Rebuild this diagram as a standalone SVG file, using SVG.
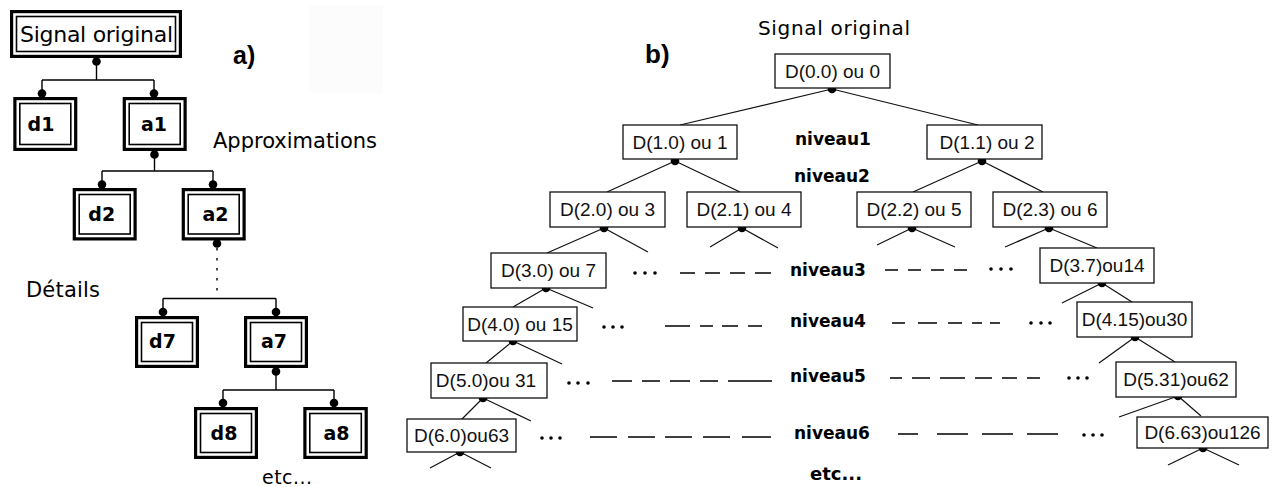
<svg xmlns="http://www.w3.org/2000/svg" width="1274" height="487" viewBox="0 0 1274 487">
  <style>
    .ob { fill: #fff; stroke: #000; stroke-width: 3.2; }
    .ib { fill: none; stroke: #000; stroke-width: 1.6; }
    .lt { font-family: "DejaVu Sans", "Liberation Sans", sans-serif; font-size: 19px; font-weight: bold; text-anchor: middle; fill: #000; }
    .cm { font-family: "DejaVu Sans", "Liberation Sans", sans-serif; fill: #000; }
    .rb { fill: #fff; stroke: #111; stroke-width: 1.3; }
    .rt { font-family: "Liberation Sans", Arial, sans-serif; font-size: 19px; text-anchor: middle; fill: #111; }
    .cn { stroke: #000; stroke-width: 1.4; fill: none; }
    .rl { stroke: #111; stroke-width: 1.2; fill: none; }
    .niv { font-family: "DejaVu Sans", "Liberation Sans", sans-serif; font-size: 17px; font-weight: bold; fill: #000; }
    .ds { stroke: #000; stroke-width: 1.3; fill: none; }
    .title { font-family: "Liberation Sans", Arial, sans-serif; font-weight: bold; fill: #000; }
  </style>
  <defs>
    <circle id="knob" r="4.3" fill="#000"/>
    <circle id="pt" r="1.8" fill="#000"/>
  </defs>

  <rect width="1274" height="487" fill="#fff"/>
  <!-- faint backdrop beside label a) -->
  <rect x="310" y="5" width="73" height="88" fill="#fcfcfc"/>

  <!-- ===== a) dyadic decomposition tree ===== -->
  <text class="title" x="233" y="64" font-size="25">a)</text>
  <text class="cm" x="213" y="148" font-size="21" textLength="164">Approximations</text>
  <text class="cm" x="26" y="297" font-size="21" textLength="74">Détails</text>
  <text class="cm" x="262" y="484" font-size="19" textLength="50">etc...</text>

  <g id="connectors-a">
    <path class="cn" d="M96.5 58 V80 M42 80 H154 M42 80 V97 M154 80 V97"/>
    <path class="cn" d="M154.5 151 V171 M102 171 H213 M102 171 V188 M213 171 V188"/>
    <path class="cn" d="M217 248 V298" stroke="#777" stroke-dasharray="2.5 7.5"/>
    <path class="cn" d="M163 298.5 H276 M163 298.5 V316 M276 298.5 V316"/>
    <path class="cn" d="M276 368 V390 M223 390 H334 M223 390 V407 M334 390 V407"/>
    <use href="#knob" x="96.5" y="61.5"/>
    <use href="#knob" x="42" y="93.5"/>
    <use href="#knob" x="154" y="93.5"/>
    <use href="#knob" x="154.5" y="154.5"/>
    <use href="#knob" x="102" y="184.5"/>
    <use href="#knob" x="213" y="184.5"/>
    <use href="#knob" x="217" y="243.5"/>
    <use href="#knob" x="163" y="312"/>
    <use href="#knob" x="276" y="312"/>
    <use href="#knob" x="276" y="371.5"/>
    <use href="#knob" x="223" y="403"/>
    <use href="#knob" x="334" y="403"/>
  </g>

  <g id="a-signal">
    <rect class="ob" x="11.6" y="11.6" width="168.8" height="44.8"/>
    <rect class="ib" x="16.5" y="16.5" width="159" height="35"/>
    <text class="cm" x="20" y="42" font-size="22" textLength="153">Signal original</text>
  </g>
  <g id="a-d1">
    <rect class="ob" x="14.9" y="98.6" width="60.8" height="50.8"/>
    <rect class="ib" x="19.8" y="103.5" width="51" height="41"/>
    <text class="lt" x="41" y="131">d1</text>
  </g>
  <g id="a-a1">
    <rect class="ob" x="124.3" y="98.6" width="60.8" height="50.8"/>
    <rect class="ib" x="129.2" y="103.5" width="51" height="41"/>
    <text class="lt" x="154" y="131">a1</text>
  </g>
  <g id="a-d2">
    <rect class="ob" x="74.3" y="189.6" width="60.8" height="49.3"/>
    <rect class="ib" x="79.2" y="194.5" width="51" height="39.5"/>
    <text class="lt" x="101.7" y="221">d2</text>
  </g>
  <g id="a-a2">
    <rect class="ob" x="183.3" y="189.6" width="60.8" height="49.3"/>
    <rect class="ib" x="188.2" y="194.5" width="51" height="39.5"/>
    <text class="lt" x="215.5" y="221">a2</text>
  </g>
  <g id="a-d7">
    <rect class="ob" x="136.6" y="317.6" width="60.8" height="48.8"/>
    <rect class="ib" x="141.5" y="322.5" width="51" height="39"/>
    <text class="lt" x="162.5" y="348">d7</text>
  </g>
  <g id="a-a7">
    <rect class="ob" x="245.6" y="317.6" width="60.8" height="48.8"/>
    <rect class="ib" x="250.5" y="322.5" width="51" height="39"/>
    <text class="lt" x="274" y="348">a7</text>
  </g>
  <g id="a-d8">
    <rect class="ob" x="195.6" y="408.6" width="60.8" height="48.8"/>
    <rect class="ib" x="200.5" y="413.5" width="51" height="39"/>
    <text class="lt" x="224" y="440">d8</text>
  </g>
  <g id="a-a8">
    <rect class="ob" x="304.9" y="408.6" width="61.3" height="48.8"/>
    <rect class="ib" x="309.8" y="413.5" width="51.5" height="39"/>
    <text class="lt" x="336.5" y="440">a8</text>
  </g>

  <!-- ===== b) wavelet packet tree ===== -->
  <text class="title" x="645" y="63" font-size="26">b)</text>
  <text class="cm" x="758" y="35" font-size="20" textLength="152">Signal original</text>
  <text class="niv" x="795" y="145">niveau1</text>
  <text class="niv" x="794" y="182">niveau2</text>
  <text class="niv" x="790" y="276">niveau3</text>
  <text class="niv" x="790" y="327">niveau4</text>
  <text class="niv" x="790" y="382">niveau5</text>
  <text class="niv" x="794" y="439">niveau6</text>
  <text class="cm" x="810" y="480" font-size="18" font-weight="bold" textLength="52">etc...</text>

  <g id="connectors-b">
    <path class="rl" d="M832 89 L680 125 M832 89 L978 125"/>
    <path class="rl" d="M675 161 L607 192 M675 161 L740 192"/>
    <path class="rl" d="M982 161 L913 192 M982 161 L1043 192"/>
    <path class="rl" d="M604 228 L547 253 M604 228 L648 252"/>
    <path class="rl" d="M742 228 L710 247 M742 228 L778 248"/>
    <path class="rl" d="M912 228 L877 245 M912 228 L955 247"/>
    <path class="rl" d="M1049 228 L1005 247 M1049 228 L1097 248"/>
    <path class="rl" d="M546 288 L513 307 M546 288 L593 308"/>
    <path class="rl" d="M1102 283 L1062 303 M1102 283 L1132 302"/>
    <path class="rl" d="M513 341 L486 363 M513 341 L562 364"/>
    <path class="rl" d="M1135 337 L1099 363 M1135 337 L1175 362"/>
    <path class="rl" d="M483 398 L461 420 M483 398 L531 421"/>
    <path class="rl" d="M1178 396 L1119 417 M1178 396 L1201 416"/>
    <path class="rl" d="M460 452 L430 468 M460 452 L491 468"/>
    <path class="rl" d="M1203 448 L1168 465 M1203 448 L1239 465"/>
    <use href="#knob" x="832" y="89"/>
    <use href="#knob" x="675" y="161"/>
    <use href="#knob" x="982" y="161"/>
    <use href="#knob" x="604" y="228"/>
    <use href="#knob" x="742" y="228"/>
    <use href="#knob" x="912" y="228"/>
    <use href="#knob" x="1049" y="228"/>
    <use href="#knob" x="546" y="288"/>
    <use href="#knob" x="1102" y="283"/>
    <use href="#knob" x="513" y="341"/>
    <use href="#knob" x="1135" y="337"/>
    <use href="#knob" x="483" y="398"/>
    <use href="#knob" x="1178" y="396"/>
    <use href="#knob" x="460" y="452"/>
    <use href="#knob" x="1203" y="448"/>
  </g>

  <!-- elided nodes between the outer branches -->
  <g id="ellipsis-rows">
    <use href="#pt" x="635" y="273"/><use href="#pt" x="645" y="273"/><use href="#pt" x="655" y="273"/>
    <path class="ds" d="M680 273 H695 M705 273 H720 M730 273 H745 M755 273 H771"/>
    <path class="ds" d="M885 270 H898 M908 270 H921 M931 270 H944 M954 270 H967"/>
    <use href="#pt" x="991" y="269"/><use href="#pt" x="1001" y="269"/><use href="#pt" x="1011" y="269"/>

    <use href="#pt" x="604" y="327"/><use href="#pt" x="613" y="327"/><use href="#pt" x="622" y="327"/>
    <path class="ds" d="M665 326 H690 M700 326 H713 M722 326 H738 M748 326 H762"/>
    <path class="ds" d="M892 323 H905 M918 323 H937 M948 323 H962 M972 323 H982 M990 323 H1000"/>
    <use href="#pt" x="1031" y="323"/><use href="#pt" x="1041" y="323"/><use href="#pt" x="1050" y="323"/>

    <use href="#pt" x="569" y="383"/><use href="#pt" x="578" y="383"/><use href="#pt" x="588" y="383"/>
    <path class="ds" d="M612 381 H632 M642 381 H660 M670 381 H690 M700 381 H718 M728 381 H772"/>
    <path class="ds" d="M890 378 H902 M912 378 H930 M940 378 H965 M975 378 H992 M1002 378 H1017 M1027 378 H1040"/>
    <use href="#pt" x="1069" y="378"/><use href="#pt" x="1078" y="378"/><use href="#pt" x="1087" y="378"/>

    <use href="#pt" x="542" y="438"/><use href="#pt" x="551" y="438"/><use href="#pt" x="560" y="438"/>
    <path class="ds" d="M590 437 H617 M628 437 H655 M665 437 H692 M703 437 H730 M742 437 H771"/>
    <path class="ds" d="M898 434 H918 M937 434 H968 M982 434 H1013 M1027 434 H1058"/>
    <use href="#pt" x="1084" y="435"/><use href="#pt" x="1093" y="435"/><use href="#pt" x="1102" y="435"/>
  </g>

  <g id="b-n0"><rect class="rb" x="775" y="54" width="115" height="34"/><text class="rt" x="832.5" y="78">D(0.0) ou 0</text></g>
  <g id="b-n1"><rect class="rb" x="623" y="125" width="114" height="34"/><text class="rt" x="680" y="149">D(1.0) ou 1</text></g>
  <g id="b-n2"><rect class="rb" x="927" y="125" width="115" height="34"/><text class="rt" x="987" y="149">D(1.1) ou 2</text></g>
  <g id="b-n3"><rect class="rb" x="550" y="192" width="115" height="35"/><text class="rt" x="607.5" y="216">D(2.0) ou 3</text></g>
  <g id="b-n4"><rect class="rb" x="687" y="192" width="114" height="35"/><text class="rt" x="744" y="216">D(2.1) ou 4</text></g>
  <g id="b-n5"><rect class="rb" x="857" y="192" width="114" height="35"/><text class="rt" x="914" y="216">D(2.2) ou 5</text></g>
  <g id="b-n6"><rect class="rb" x="993" y="192" width="114" height="35"/><text class="rt" x="1050" y="216">D(2.3) ou 6</text></g>
  <g id="b-n7"><rect class="rb" x="491" y="253" width="115" height="35"/><text class="rt" x="548.5" y="277">D(3.0) ou 7</text></g>
  <g id="b-n14"><rect class="rb" x="1040" y="248" width="114" height="35"/><text class="rt" x="1097" y="272">D(3.7)ou14</text></g>
  <g id="b-n15"><rect class="rb" x="463" y="307" width="114" height="34"/><text class="rt" x="520" y="331">D(4.0) ou 15</text></g>
  <g id="b-n30"><rect class="rb" x="1077" y="302" width="115" height="35"/><text class="rt" x="1134.5" y="326">D(4.15)ou30</text></g>
  <g id="b-n31"><rect class="rb" x="431" y="363" width="116" height="35"/><text class="rt" x="486" y="387">D(5.0)ou 31</text></g>
  <g id="b-n62"><rect class="rb" x="1116" y="362" width="120" height="35"/><text class="rt" x="1176" y="386">D(5.31)ou62</text></g>
  <g id="b-n63"><rect class="rb" x="407" y="419" width="109" height="33"/><text class="rt" x="461.5" y="442">D(6.0)ou63</text></g>
  <g id="b-n126"><rect class="rb" x="1137" y="417" width="131" height="31"/><text class="rt" x="1202.5" y="439">D(6.63)ou126</text></g>
</svg>
